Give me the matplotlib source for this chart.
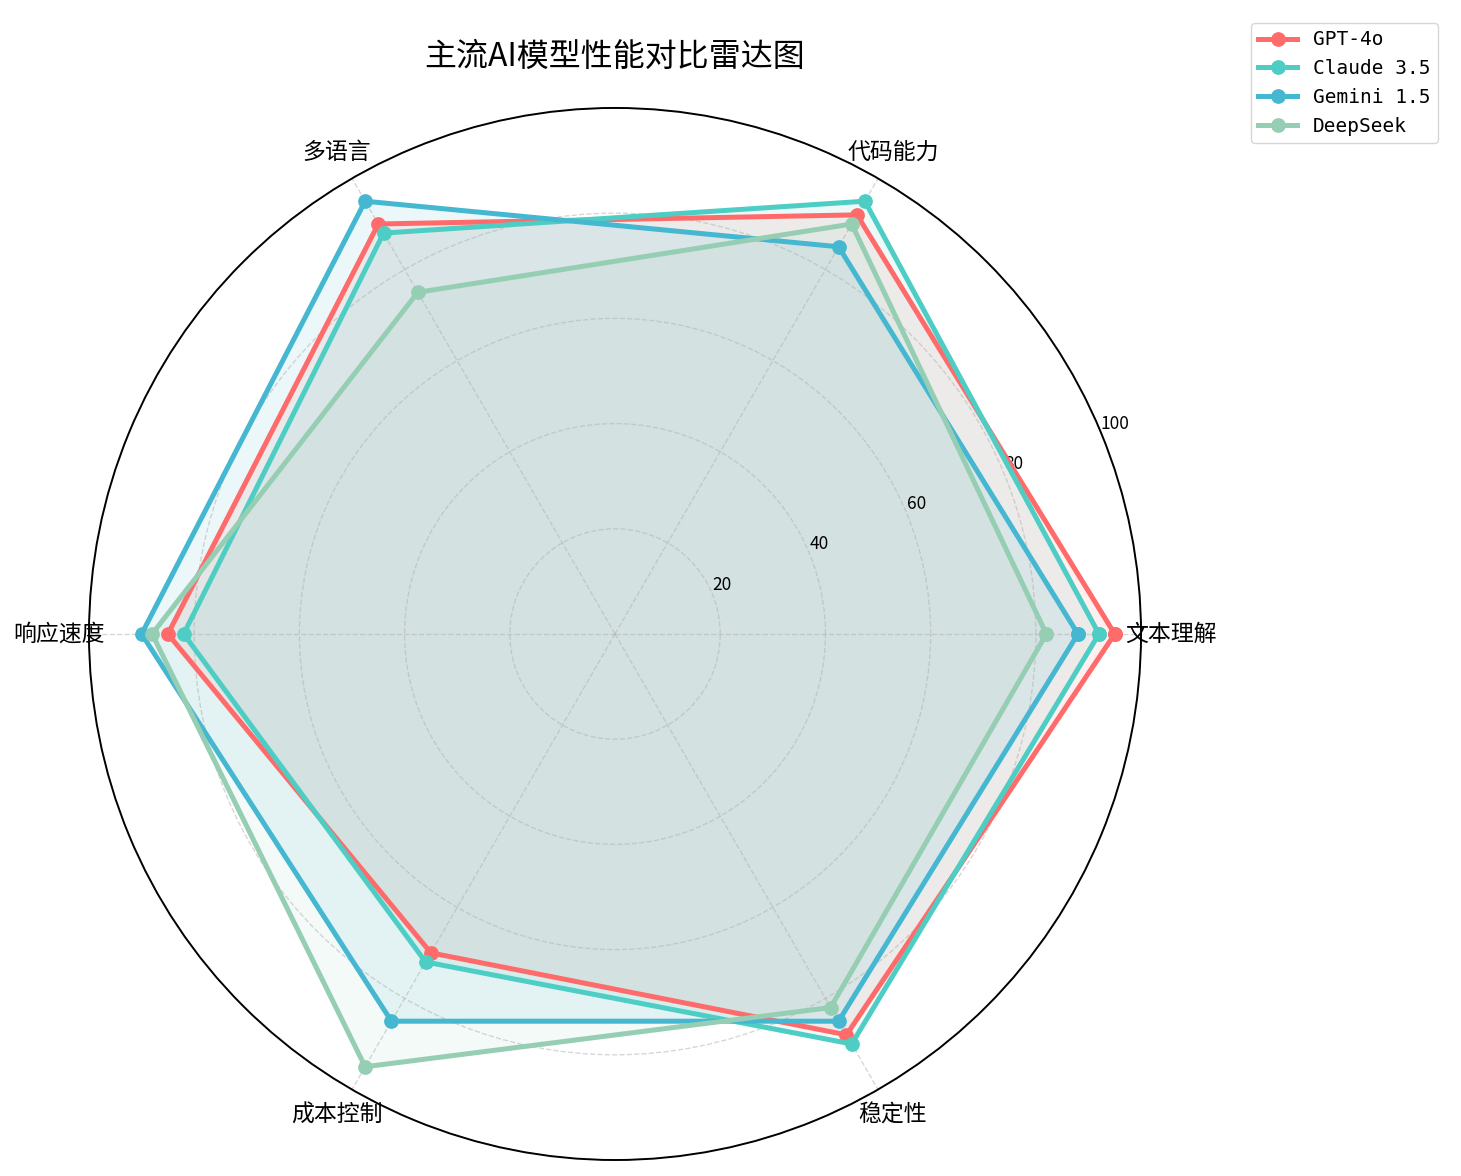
import numpy as np
import matplotlib
matplotlib.use("Agg")
from matplotlib import pyplot as plt

plt.rcParams['font.family'] = ['Noto Sans CJK SC', 'DejaVu Sans']
plt.rcParams['axes.unicode_minus'] = False

# 维度和各模型得分
categories = ['文本理解', '代码能力', '多语言', '响应速度', '成本控制', '稳定性']
models = ['GPT-4o', 'Claude 3.5', 'Gemini 1.5', 'DeepSeek']
gpt4o = [95, 92, 90, 85, 70, 88]
claude = [92, 95, 88, 82, 72, 90]
gemini = [88, 85, 95, 90, 85, 85]
deepseek = [82, 90, 75, 88, 95, 82]
colors = ['#FF6B6B', '#4ECDC4', '#45B7D1', '#96CEB4']
rticks = [20, 40, 60, 80, 100]

scores = [gpt4o, claude, gemini, deepseek]

angles = np.linspace(0, 2 * np.pi, len(categories), endpoint=False).tolist()
angles_closed = angles + angles[:1]

fig = plt.figure(figsize=(14.61, 11.76), dpi=100)
ax = fig.add_axes([0.0609, 0.0136, 0.7201, 0.8946], polar=True)

for name, vals, c in zip(models, scores, colors):
    v = vals + vals[:1]
    ax.plot(angles_closed, v, 'o-', color=c, linewidth=3.6, markersize=9.6, label=name)
    ax.fill(angles_closed, v, color=c, alpha=0.1)

ax.set_xticks(angles)
ax.set_xticklabels(categories, fontsize=16.5)
ax.tick_params(axis='x', pad=11)
ax.set_ylim(0, 100)
ax.set_yticks(rticks)
ax.set_yticklabels([str(t) for t in rticks], fontsize=12.5)
ax.grid(True, linestyle='--', alpha=0.5, linewidth=1)
ax.spines['polar'].set_linewidth(1.4)

fig.text(615 / 1461, 1 - 57 / 1176, '主流AI模型性能对比雷达图', fontsize=23,
         ha='center', va='center')

fig.legend(loc='upper right', bbox_to_anchor=(0.991, 0.989),
           prop={'family': 'DejaVu Sans Mono', 'size': 14})

fig.savefig('out.png', dpi=100)
